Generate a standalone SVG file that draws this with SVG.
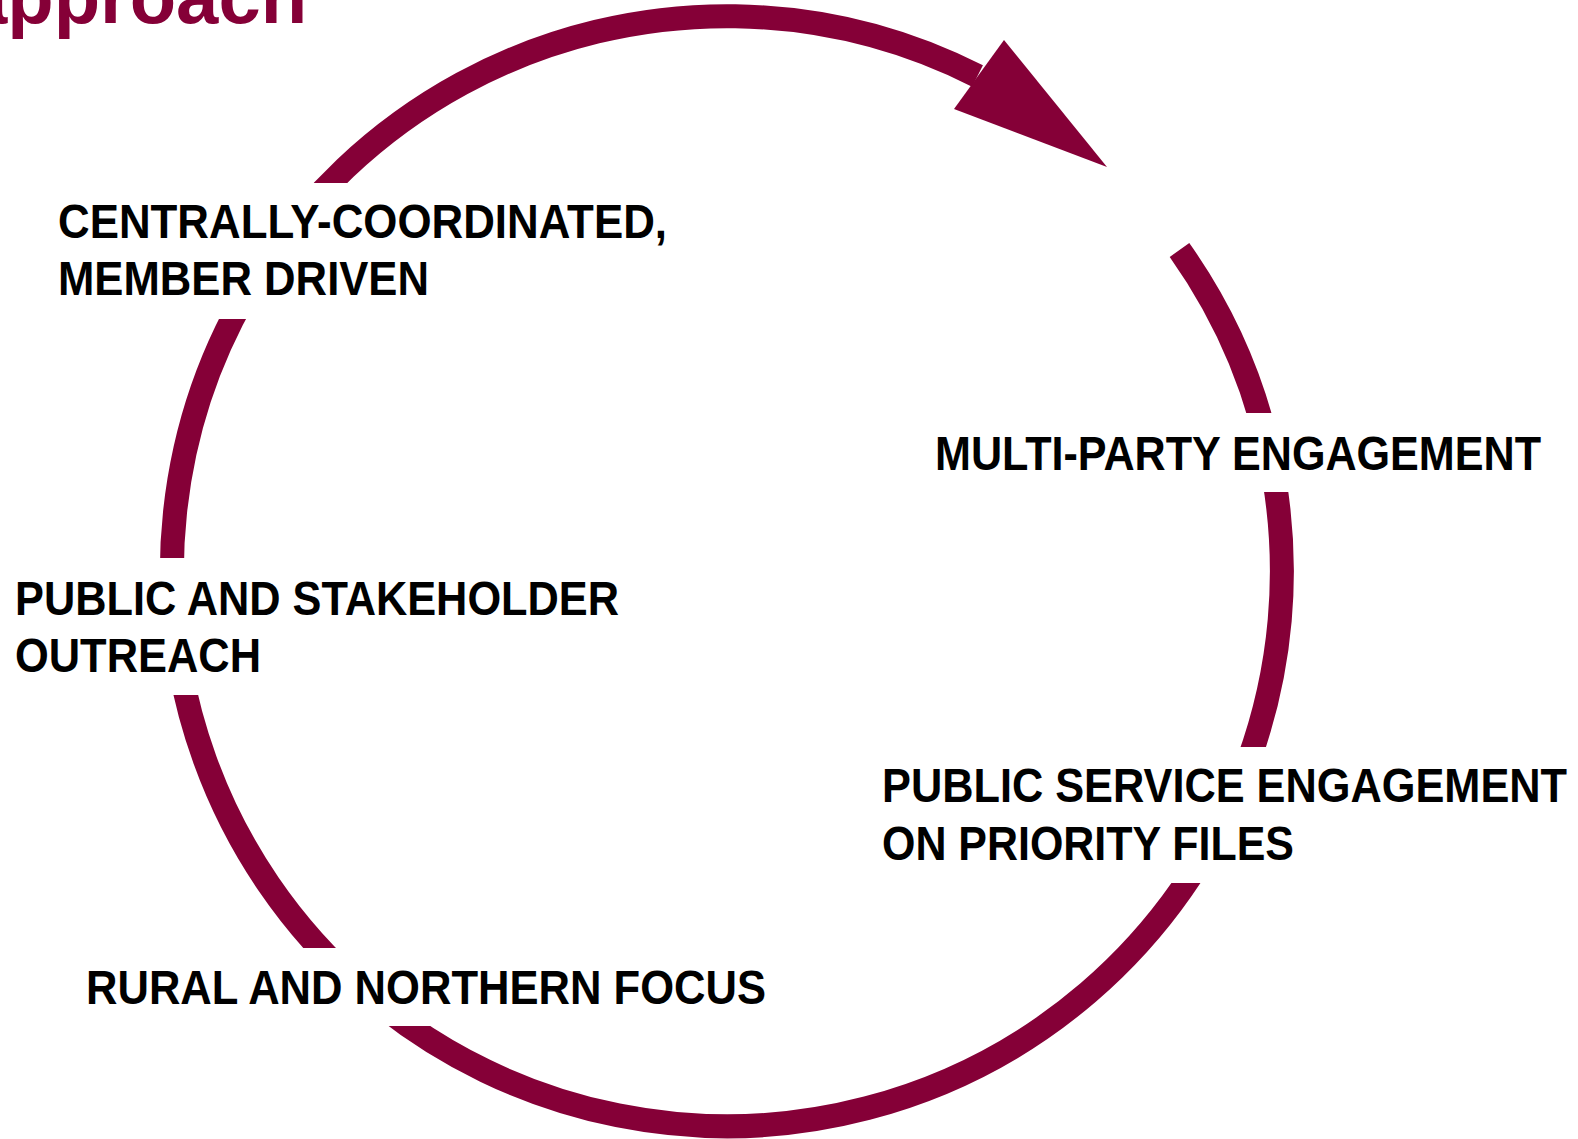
<svg xmlns="http://www.w3.org/2000/svg" width="1578" height="1139" viewBox="0 0 1578 1139">
<style>
.lbl{font-family:"Liberation Sans",Arial,sans-serif;font-weight:bold;font-size:48px;fill:#000}
.title{font-family:"Liberation Sans",Arial,sans-serif;font-weight:bold;font-size:76px;fill:#850037}
.ring{fill:none;stroke:#850037;stroke-width:24}
.head{fill:#850037}
</style>
<defs>
<mask id="gaps" maskUnits="userSpaceOnUse" x="0" y="0" width="1578" height="1139">
<rect x="0" y="0" width="1578" height="1139" fill="#fff"/>
<rect x="40" y="183" width="650" height="136" fill="#000"/>
<rect x="920" y="413" width="658" height="79" fill="#000"/>
<rect x="0" y="558" width="640" height="137" fill="#000"/>
<rect x="860" y="747" width="718" height="136" fill="#000"/>
<rect x="70" y="948" width="710" height="78" fill="#000"/>
</mask>
</defs>
<text class="title" x="-35" y="23">approach</text>
<g id="connectors">
<path class="ring" mask="url(#gaps)" d="M 1179.5 250 A 555 555 0 1 1 977.5 76"/>
<polygon class="head" points="1004,40 1107,167 954,109"/>
</g>
<g id="node-centrally">
<text class="lbl" x="58" y="238" textLength="609" lengthAdjust="spacingAndGlyphs">CENTRALLY-COORDINATED,</text>
<text class="lbl" x="58" y="295" textLength="371" lengthAdjust="spacingAndGlyphs">MEMBER DRIVEN</text>
</g>
<g id="node-multiparty">
<text class="lbl" x="935" y="470" textLength="606" lengthAdjust="spacingAndGlyphs">MULTI-PARTY ENGAGEMENT</text>
</g>
<g id="node-outreach">
<text class="lbl" x="15" y="615" textLength="604" lengthAdjust="spacingAndGlyphs">PUBLIC AND STAKEHOLDER</text>
<text class="lbl" x="15" y="672" textLength="246" lengthAdjust="spacingAndGlyphs">OUTREACH</text>
</g>
<g id="node-publicservice">
<text class="lbl" x="882" y="802" textLength="685" lengthAdjust="spacingAndGlyphs">PUBLIC SERVICE ENGAGEMENT</text>
<text class="lbl" x="882" y="860" textLength="412" lengthAdjust="spacingAndGlyphs">ON PRIORITY FILES</text>
</g>
<g id="node-rural">
<text class="lbl" x="86" y="1004" textLength="680" lengthAdjust="spacingAndGlyphs">RURAL AND NORTHERN FOCUS</text>
</g>
</svg>
